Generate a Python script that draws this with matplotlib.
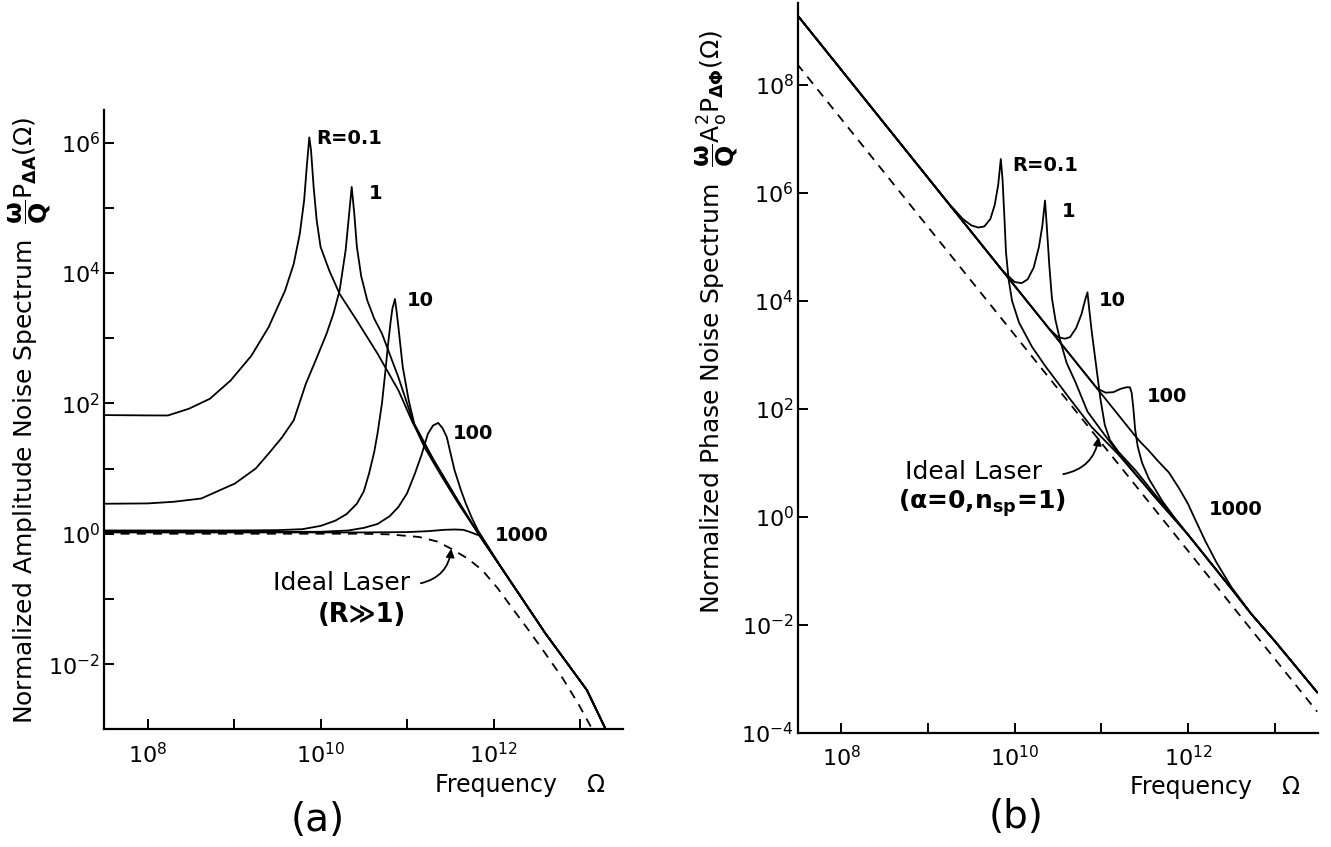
import numpy as np
import matplotlib
matplotlib.use("Agg")
import matplotlib.pyplot as plt
from matplotlib.ticker import NullFormatter

plt.rcParams['font.family'] = ['DejaVu Sans']
plt.rcParams['mathtext.fontset'] = 'dejavusans'

# ---------------- Panel (a): amplitude noise (log10 values) ----
a_r01_logf = [7.5, 8.0, 8.235, 8.477, 8.72, 8.96, 9.20, 9.40, 9.59, 9.69, 9.76, 9.81, 9.84, 9.87,
              9.89, 9.92, 9.955, 10.0, 10.10, 10.22, 10.42, 10.66, 10.90, 11.07, 11.3, 11.6, 11.84,
              12.11, 12.60, 13.08, 13.30]
a_r01_logy = [1.82, 1.815, 1.814, 1.917, 2.07, 2.35, 2.73, 3.17, 3.73, 4.14, 4.60, 5.11, 5.62, 6.08,
              5.88, 5.32, 4.81, 4.40, 4.04, 3.68, 3.27, 2.76, 2.20, 1.69, 1.14, 0.48, -0.03,
              -0.56, -1.53, -2.40, -3.01]

a_r1_logf = [7.5, 8.0, 8.3, 8.62, 9.01, 9.25, 9.40, 9.55, 9.69, 9.83, 9.95, 10.07, 10.15, 10.22, 10.29,
             10.33, 10.36, 10.39, 10.42, 10.47, 10.54, 10.62, 10.71, 10.90, 11.07, 11.3, 11.6, 11.84,
             12.11, 12.60, 13.08, 13.30]
a_r1_logy = [0.46, 0.465, 0.49, 0.54, 0.77, 1.00, 1.23, 1.47, 1.74, 2.30, 2.68, 3.07, 3.38, 3.73, 4.35,
             4.90, 5.32, 4.91, 4.40, 3.95, 3.58, 3.30, 3.07, 2.40, 1.72, 1.15, 0.48, -0.03,
             -0.56, -1.53, -2.40, -3.01]

a_r10_logf = [7.5, 9.0, 9.5, 9.79, 10.0, 10.17, 10.30, 10.42, 10.50, 10.56, 10.62, 10.66, 10.71, 10.75,
              10.78, 10.81, 10.83, 10.86, 10.88, 10.90, 10.95, 11.02, 11.09, 11.2, 11.4, 11.6, 11.84,
              12.11, 12.60, 13.08, 13.30]
a_r10_logy = [0.05, 0.05, 0.055, 0.07, 0.12, 0.20, 0.30, 0.46, 0.65, 0.92, 1.25, 1.55, 2.00, 2.50,
              2.90, 3.25, 3.45, 3.60, 3.40, 3.17, 2.56, 2.04, 1.65, 1.33, 0.88, 0.45, -0.03,
              -0.56, -1.53, -2.40, -3.01]

a_r100_logf = [7.5, 10.0, 10.32, 10.50, 10.66, 10.80, 10.90, 11.00, 11.09, 11.17, 11.24, 11.30, 11.36,
               11.41, 11.46, 11.50, 11.55, 11.62, 11.68, 11.75, 11.82, 12.11, 12.60, 13.08, 13.30]
a_r100_logy = [0.03, 0.03, 0.05, 0.09, 0.15, 0.27, 0.41, 0.62, 0.92, 1.22, 1.53, 1.66, 1.70,
               1.62, 1.48, 1.25, 0.97, 0.68, 0.46, 0.24, 0.05, -0.56, -1.53, -2.40, -3.01]

a_r1000_logf = [7.5, 10.5, 11.0, 11.25, 11.43, 11.55, 11.65, 11.72, 11.84, 12.11, 12.60, 13.08, 13.30]
a_r1000_logy = [0.02, 0.02, 0.025, 0.04, 0.06, 0.065, 0.06, 0.03, -0.03, -0.56, -1.53, -2.40, -3.01]

a_ideal_logf = [7.5, 10.5, 10.8, 11.14, 11.35, 11.51, 11.70, 11.87, 12.05, 12.21, 12.40, 12.60, 12.80, 12.98, 13.15]
a_ideal_logy = [0.0, 0.0, -0.01, -0.05, -0.12, -0.23, -0.38, -0.56, -0.84, -1.13, -1.47, -1.84, -2.22, -2.61, -3.02]

# ---------------- Panel (b): phase noise (log10 values) ----
b_r01_logf = [7.49, 9.25, 9.30, 9.40, 9.50, 9.58, 9.65, 9.72, 9.77, 9.81, 9.84, 9.86, 9.88, 9.90, 9.93,
              9.97, 10.05, 10.20, 10.35, 10.64, 10.89, 11.2, 11.6, 12.0, 12.5, 12.73, 13.0, 13.49]
b_r01_logy = [9.30, 5.78, 5.70, 5.52, 5.40, 5.36, 5.38, 5.52, 5.78, 6.15, 6.63, 6.25, 5.60, 4.90, 4.40,
              4.00, 3.60, 3.15, 2.80, 2.18, 1.66, 1.15, 0.40, -0.33, -1.33, -1.80, -2.30, -3.25]

b_r1_logf = [7.49, 9.85, 9.90, 10.0, 10.08, 10.15, 10.22, 10.28, 10.32, 10.35, 10.37, 10.40, 10.43,
             10.47, 10.52, 10.60, 10.70, 10.84, 11.0, 11.2, 11.6, 12.0, 12.5, 12.73, 13.0, 13.49]
b_r1_logy = [9.30, 4.58, 4.50, 4.35, 4.33, 4.40, 4.62, 5.00, 5.40, 5.86, 5.40, 4.65, 4.05,
             3.65, 3.30, 2.85, 2.50, 1.95, 1.60, 1.17, 0.40, -0.33, -1.33, -1.80, -2.30, -3.25]

b_r10_logf = [7.49, 10.40, 10.50, 10.58, 10.64, 10.71, 10.77, 10.81, 10.84, 10.86, 10.89, 10.94, 10.99,
              11.04, 11.10, 11.2, 11.4, 11.6, 11.8, 12.0, 12.5, 12.73, 13.0, 13.49]
b_r10_logy = [9.30, 3.48, 3.33, 3.30, 3.33, 3.50, 3.75, 4.00, 4.16, 3.85, 3.42, 2.80, 2.18,
              1.70, 1.42, 1.20, 0.85, 0.45, 0.07, -0.33, -1.33, -1.80, -2.30, -3.25]

b_r100_logf = [7.49, 10.95, 11.05, 11.14, 11.22, 11.29, 11.33, 11.35, 11.37, 11.39, 11.42, 11.47, 11.55,
               11.70, 11.85, 12.0, 12.5, 12.73, 13.0, 13.49]
b_r100_logy = [9.30, 2.38, 2.30, 2.31, 2.37, 2.40, 2.40, 2.30, 2.00, 1.62, 1.30, 1.00, 0.70,
               0.30, -0.03, -0.33, -1.33, -1.80, -2.30, -3.25]

b_r1000_logf = [7.49, 11.40, 11.46, 11.54, 11.65, 11.78, 11.90, 12.00, 12.08, 12.20, 12.33, 12.50, 12.73, 13.0, 13.49]
b_r1000_logy = [9.30, 1.48, 1.37, 1.24, 1.04, 0.82, 0.52, 0.24, -0.04, -0.45, -0.85, -1.30, -1.80, -2.30, -3.25]

b_ideal_logf = [7.49, 13.49]
b_ideal_logy = [8.39, -3.61]

xticks_all = [1e8, 1e9, 1e10, 1e11, 1e12, 1e13]
xtick_labels = ['$10^{8}$', '', '$10^{10}$', '', '$10^{12}$', '']


def P(v):
    return np.power(10.0, np.asarray(v, dtype=float))


W, H = 1331, 847
fig = plt.figure(figsize=(W / 100, H / 100), dpi=100)
fig.patch.set_facecolor('white')

ax_a = fig.add_axes([104.3 / W, 1 - 729.3 / H, (623.3 - 104.3) / W, (729.3 - 110) / H])
ax_b = fig.add_axes([798 / W, 1 - 732.7 / H, (1318 - 798) / W, (732.7 - 3) / H])


def style(ax, ymin, ymax, yticks_major, yticks_minor):
    ax.set_xscale('log')
    ax.set_yscale('log')
    ax.set_xlim(10 ** 7.5, 10 ** 13.5)
    ax.set_ylim(ymin, ymax)
    for s in ['top', 'right']:
        ax.spines[s].set_visible(False)
    for s in ['left', 'bottom']:
        ax.spines[s].set_linewidth(1.6)
    ax.set_xticks(xticks_all)
    ax.set_xticklabels(xtick_labels)
    ax.xaxis.set_minor_formatter(NullFormatter())
    ax.yaxis.set_minor_formatter(NullFormatter())
    ax.set_xticks([], minor=True)
    ax.set_yticks(yticks_major)
    ax.set_yticklabels(['$10^{%d}$' % int(round(np.log10(t))) for t in yticks_major])
    ax.set_yticks(yticks_minor, minor=True)
    ax.tick_params(which='both', direction='in', length=7, width=1.4, labelsize=16)
    ax.tick_params(axis='x', pad=9)
    ax.tick_params(axis='y', pad=3)
    ax.patch.set_alpha(0)


style(ax_a, 1e-3, 10 ** 6.5, [1e-2, 1e0, 1e2, 1e4, 1e6], [1e-1, 1e1, 1e3, 1e5])
style(ax_b, 1e-4, 10 ** 9.52, [1e-4, 1e-2, 1e0, 1e2, 1e4, 1e6, 1e8], [])

lw = 1.3
for lf, ly in [(a_r01_logf, a_r01_logy), (a_r1_logf, a_r1_logy), (a_r10_logf, a_r10_logy),
               (a_r100_logf, a_r100_logy), (a_r1000_logf, a_r1000_logy)]:
    ax_a.plot(P(lf), P(ly), color='black', lw=lw, solid_joinstyle='round')
ax_a.plot(P(a_ideal_logf), P(a_ideal_logy), color='black', lw=lw, ls=(0, (5, 4)))

for lf, ly in [(b_r01_logf, b_r01_logy), (b_r1_logf, b_r1_logy), (b_r10_logf, b_r10_logy),
               (b_r100_logf, b_r100_logy), (b_r1000_logf, b_r1000_logy)]:
    ax_b.plot(P(lf), P(ly), color='black', lw=lw, solid_joinstyle='round')
ax_b.plot(P(b_ideal_logf), P(b_ideal_logy), color='black', lw=lw, ls=(0, (5, 4)))

# curve labels panel (a)
lab_kw = dict(fontsize=14, fontweight='bold', va='center', ha='left')
ax_a.text(10 ** 9.95, 10 ** 6.06, 'R=0.1', **lab_kw)
ax_a.text(10 ** 10.56, 10 ** 5.22, '1', **lab_kw)
ax_a.text(10 ** 11.0, 10 ** 3.58, '10', **lab_kw)
ax_a.text(10 ** 11.53, 10 ** 1.54, '100', **lab_kw)
ax_a.text(10 ** 12.02, 10 ** -0.03, '1000', **lab_kw)
ax_a.text(10 ** 10.24, 10 ** -0.76, 'Ideal Laser', fontsize=18, ha='center', va='center')
ax_a.text(10 ** 10.48, 10 ** -1.25, '(R\u226B1)', fontsize=18.5, fontweight='bold', ha='center', va='center')
ax_a.annotate('', xy=(10 ** 11.51, 10 ** -0.23), xytext=(10 ** 11.16, 10 ** -0.76),
              arrowprops=dict(arrowstyle='-|>', connectionstyle='arc3,rad=0.35', color='black', lw=1.3,
                              mutation_scale=12, shrinkA=0, shrinkB=0))

# curve labels panel (b)
ax_b.text(10 ** 9.97, 10 ** 6.50, 'R=0.1', **lab_kw)
ax_b.text(10 ** 10.54, 10 ** 5.65, '1', **lab_kw)
ax_b.text(10 ** 10.97, 10 ** 4.0, '10', **lab_kw)
ax_b.text(10 ** 11.52, 10 ** 2.22, '100', **lab_kw)
ax_b.text(10 ** 12.24, 10 ** 0.14, '1000', **lab_kw)
ax_b.text(10 ** 9.52, 10 ** 0.83, 'Ideal Laser', fontsize=18, ha='center', va='center')
ax_b.text(10 ** 9.62, 10 ** 0.25, r'($\mathbf{\alpha}$=0,n$_{\mathbf{sp}}$=1)', fontsize=18, fontweight='bold',
          ha='center', va='center')
ax_b.annotate('', xy=(10 ** 10.97, 10 ** 1.48), xytext=(10 ** 10.56, 10 ** 0.79),
              arrowprops=dict(arrowstyle='-|>', connectionstyle='arc3,rad=0.35', color='black', lw=1.3,
                              mutation_scale=12, shrinkA=0, shrinkB=0))

# axis titles
fig.text(30 / W, 1 - 421 / H,
         r'Normalized Amplitude Noise Spectrum  $\dfrac{\mathbf{\omega}}{\mathbf{Q}}\mathrm{P}_{\mathbf{\Delta A}}\mathrm{(\Omega)}$',
         rotation=90, fontsize=18, ha='center', va='center')
fig.text(717 / W, 1 - 322 / H,
         r'Normalized Phase Noise Spectrum  $\dfrac{\mathbf{\omega}}{\mathbf{Q}}\mathrm{A}_{\mathrm{o}}^{2}\mathrm{P}_{\mathbf{\Delta\Phi}}\mathrm{(\Omega)}$',
         rotation=90, fontsize=18, ha='center', va='center')
fig.text(520 / W, 1 - 785 / H, 'Frequency    \u03a9', fontsize=17, ha='center', va='center')
fig.text(1215 / W, 1 - 787 / H, 'Frequency    \u03a9', fontsize=17, ha='center', va='center')
fig.text(318 / W, 1 - 820 / H, '(a)', fontsize=28, ha='center', va='center')
fig.text(1016 / W, 1 - 817 / H, '(b)', fontsize=28, ha='center', va='center')

fig.savefig('out.png', dpi=100, facecolor='white')
